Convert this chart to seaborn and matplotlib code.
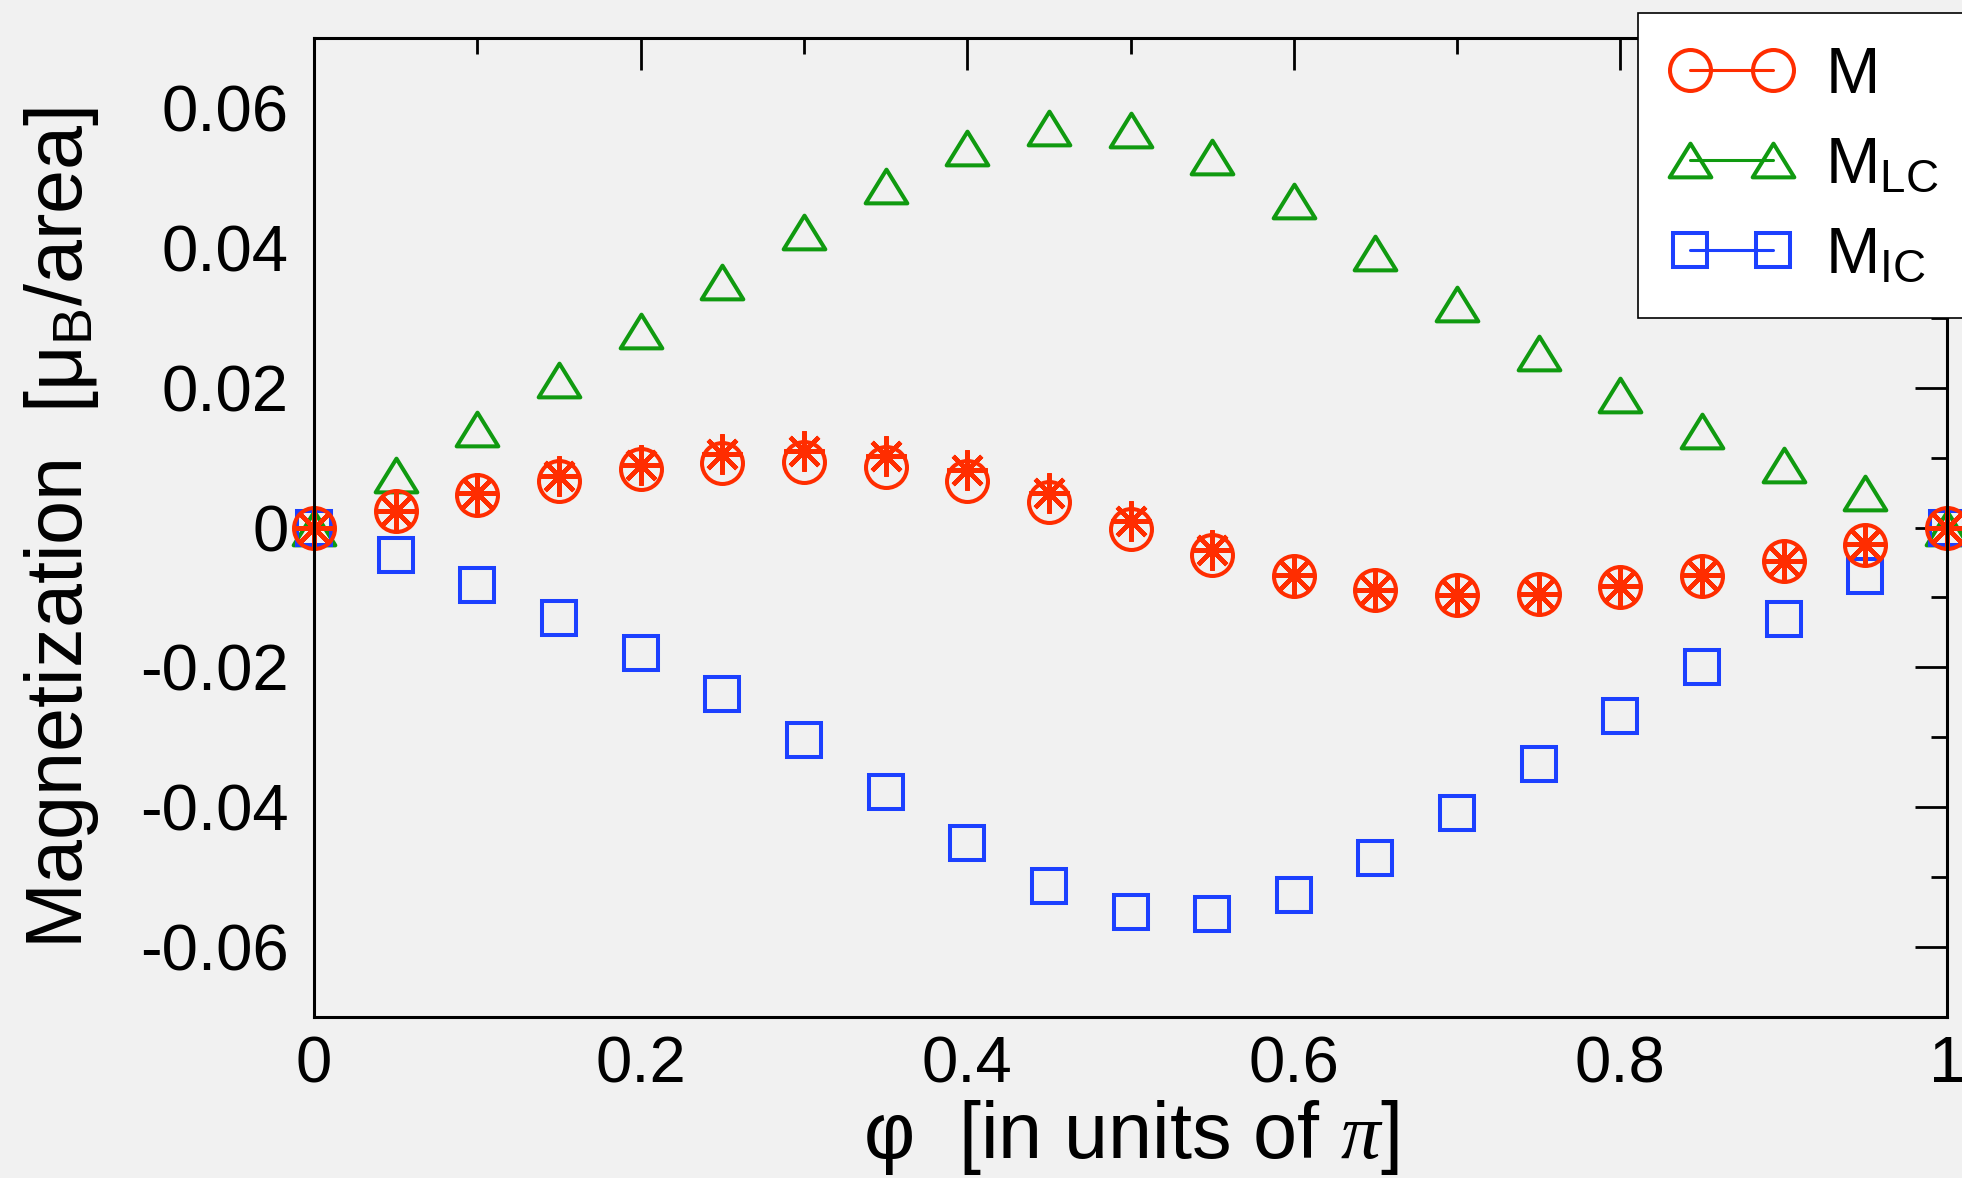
import numpy as np
import matplotlib
matplotlib.use("Agg")
import matplotlib.pyplot as plt
import seaborn as sns
from matplotlib.lines import Line2D
from matplotlib.markers import MarkerStyle
from matplotlib.path import Path
from matplotlib.ticker import MultipleLocator

# datos
phi = [0.0, 0.05, 0.10, 0.15, 0.20, 0.25, 0.30, 0.35, 0.40, 0.45, 0.50,
       0.55, 0.60, 0.65, 0.70, 0.75, 0.80, 0.85, 0.90, 0.95, 1.0]
m_total = [0.0, 0.0023, 0.0046, 0.0066, 0.0083, 0.0092, 0.0094, 0.0086, 0.0066, 0.0037, -0.0002,
           -0.0039, -0.0070, -0.0090, -0.0097, -0.0095, -0.0085, -0.0069, -0.0048, -0.0025, 0.0]
m_star = [0.0, 0.0023, 0.0049, 0.0073, 0.0090, 0.0105, 0.0109, 0.0102, 0.0082, 0.0050, 0.0010,
          -0.0032, -0.0068, -0.0089, -0.0097, -0.0095, -0.0084, -0.0068, -0.0048, -0.0024, 0.0]
m_lc = [0.0, 0.0075, 0.0141, 0.0211, 0.0281, 0.0351, 0.0423, 0.0489, 0.0543, 0.0571, 0.0568,
        0.0530, 0.0467, 0.0392, 0.0319, 0.0249, 0.0190, 0.0138, 0.0090, 0.0050, 0.0]
m_ic = [0.0, -0.0039, -0.0082, -0.0129, -0.0179, -0.0238, -0.0304, -0.0378, -0.0451, -0.0512, -0.0550,
        -0.0553, -0.0525, -0.0473, -0.0408, -0.0338, -0.0269, -0.0199, -0.0131, -0.0070, 0.0]

x_ticks = [0, 0.2, 0.4, 0.6, 0.8, 1.0]
x_ticklabels = ["0", "0.2", "0.4", "0.6", "0.8", "1"]
y_ticks = [-0.06, -0.04, -0.02, 0, 0.02, 0.04, 0.06]
y_ticklabels = ["-0.06", "-0.04", "-0.02", "0", "0.02", "0.04", "0.06"]
labels = ["$\\mathrm{M}$", "$\\mathrm{M}_\\mathrm{LC}$", "$\\mathrm{M}_\\mathrm{IC}$"]

RED = "#ff2d00"
GREEN = "#109a10"
BLUE = "#1c40ff"
BG = "#f1f1f1"


def plot_magnetization():
    sns.set_style("white")
    plt.rcParams['font.family'] = ['Liberation Sans', 'DejaVu Sans']
    plt.rcParams['mathtext.fontset'] = 'custom'
    plt.rcParams['mathtext.rm'] = 'Liberation Sans'
    plt.rcParams['mathtext.it'] = 'Liberation Serif:italic'
    plt.rcParams['mathtext.bf'] = 'Liberation Sans:bold'
    for key in ['text.color', 'axes.labelcolor', 'xtick.color', 'ytick.color']:
        plt.rcParams[key] = 'black'

    fig = plt.figure(figsize=(19.62, 11.78), dpi=100, facecolor=BG)
    ax = fig.add_axes([314 / 1962, 1 - 1017 / 1178, (1947 - 314) / 1962, (1017 - 38) / 1178])
    ax.set_facecolor(BG)

    # triangulo (centrado en su caja)
    tri = MarkerStyle(Path([(0, 17), (-21, -17), (21, -17), (0, 17)], closed=True), joinstyle='miter')

    common = dict(linestyle='', markerfacecolor='none', clip_on=False, errorbar=None, legend=False, ax=ax)
    sns.lineplot(x=phi, y=m_lc, marker=tri, markersize=30, markeredgewidth=2.9,
                 markeredgecolor=GREEN, color=GREEN, **common)
    sns.lineplot(x=phi, y=m_ic, marker='s', markersize=25, markeredgewidth=2.9,
                 markeredgecolor=BLUE, color=BLUE, **common)
    sns.lineplot(x=phi, y=m_total, marker='o', markersize=29.5, markeredgewidth=2.9,
                 markeredgecolor=RED, color=RED, **common)
    sns.lineplot(x=phi, y=m_star, marker=(8, 2, 0), markersize=29, markeredgewidth=3.2,
                 markeredgecolor=RED, color=RED, **common)

    ax.set_xlim(0, 1)
    ax.set_ylim(-0.07, 0.07)
    ax.set_xticks(x_ticks)
    ax.set_xticklabels(x_ticklabels)
    ax.set_yticks(y_ticks)
    ax.set_yticklabels(y_ticklabels)
    ax.xaxis.set_minor_locator(MultipleLocator(0.1))
    ax.yaxis.set_minor_locator(MultipleLocator(0.01))
    ax.tick_params(which='both', direction='in', top=True, right=True, width=2, color='black',
                   labelcolor='black')
    ax.tick_params(which='major', length=23, labelsize=47)
    ax.tick_params(which='minor', length=11.5)
    ax.tick_params(axis='y', which='major', pad=18)
    ax.tick_params(axis='x', which='major', pad=13)
    for s in ax.spines.values():
        s.set_linewidth(2.2)
        s.set_color('black')

    ax.set_xlabel("φ  [in units of $\\pi$]", fontsize=57, labelpad=2, color='black')
    ax.set_ylabel("Magnetization  [$\\mathrm{μ}_\\mathrm{B}$/area]", fontsize=57, labelpad=28,
                  color='black')

    handles = [
        Line2D([], [], color=RED, lw=2.2, marker='o', markersize=29.5, markeredgewidth=2.9,
               markerfacecolor='none', markeredgecolor=RED),
        Line2D([], [], color=GREEN, lw=2.2, marker=tri, markersize=30, markeredgewidth=2.9,
               markerfacecolor='none', markeredgecolor=GREEN),
        Line2D([], [], color=BLUE, lw=2.2, marker='s', markersize=25, markeredgewidth=2.9,
               markerfacecolor='none', markeredgecolor=BLUE),
    ]
    leg = ax.legend(handles, labels, loc='upper left',
                    bbox_to_anchor=(1638 / 1962, 1 - 13 / 1178), bbox_transform=fig.transFigure,
                    borderaxespad=0, numpoints=2, handlelength=1.87, handletextpad=0.5,
                    fontsize=47, borderpad=0.5, labelspacing=0.46,
                    fancybox=False, framealpha=1, facecolor='white', edgecolor='black')
    leg.get_frame().set_linewidth(1.2)
    leg.set_zorder(10)
    for t in leg.get_texts():
        t.set_color('black')

    fig.savefig("out.png", dpi=100, facecolor=BG)


if __name__ == '__main__':
    plot_magnetization()
